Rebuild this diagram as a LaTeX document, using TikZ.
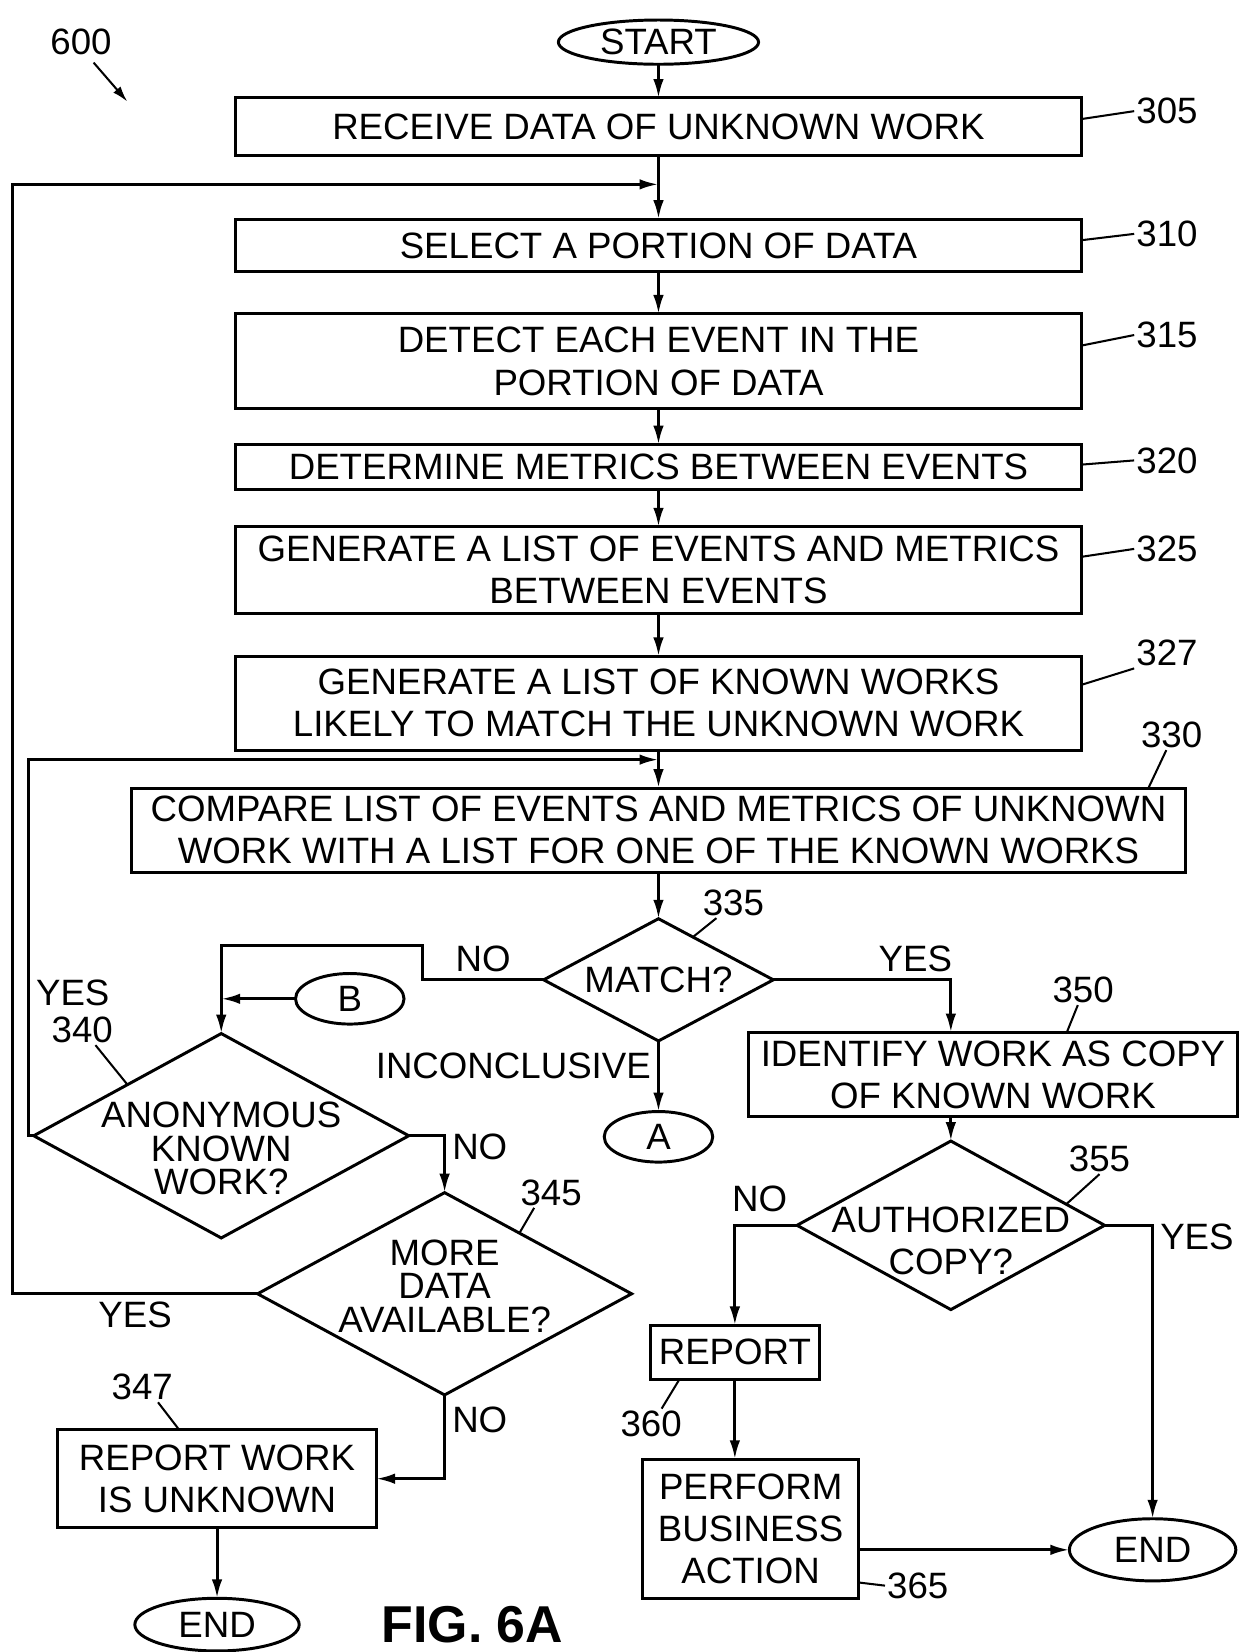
\documentclass[tikz,border=0pt]{standalone}
\usepackage{fontspec}
\setmainfont{Liberation Sans}
\usetikzlibrary{shapes.geometric,arrows.meta,positioning,calc}
\newcommand{\flowfont}{\fontsize{19.8}{22.8}\selectfont}
\newcommand{\diafont}{\fontsize{19.8}{18.2}\selectfont}
\newcommand{\figfont}{\fontsize{28}{32}\selectfont\bfseries}

\begin{document}
\begin{tikzpicture}[
    font=\flowfont,
    box/.style={rectangle, draw, line width=1.6pt, inner sep=0pt, outer sep=0pt, minimum width=16.06cm, align=center},
    decision/.style={diamond, draw, line width=1.6pt, inner sep=0pt, outer sep=0pt},
    term/.style={ellipse, draw, line width=1.6pt, inner sep=0pt, outer sep=0pt, minimum width=3.12cm, minimum height=1.0cm},
    conn/.style={ellipse, draw, line width=1.6pt, inner sep=0pt, outer sep=0pt, minimum width=2.06cm, minimum height=0.96cm},
    dtext/.style={align=center, inner sep=0pt, font=\diafont},
    num/.style={inner sep=1pt},
    arrow/.style={-{Latex[length=0.36cm, width=0.2cm]}, line width=1.6pt},
    lead/.style={line width=1.1pt},
    figlabel/.style={inner sep=0pt, font=\figfont}
]
    \useasboundingbox (-12.5,0.8) rectangle (11.1,-30.56);

    % Main column
    \node[term, minimum width=3.8cm, minimum height=0.84cm] (start) {START};
    \node[box, minimum height=1.1cm, below=0.64cm of start] (b305) {RECEIVE DATA OF UNKNOWN WORK};
    \node[box, minimum height=1.0cm, below=1.2cm of b305] (b310) {SELECT A PORTION OF DATA};
    \node[box, minimum height=1.8cm, below=0.8cm of b310] (b315) {DETECT EACH EVENT IN THE\\PORTION OF DATA};
    \node[box, minimum height=0.86cm, below=0.68cm of b315] (b320) {DETERMINE METRICS BETWEEN EVENTS};
    \node[box, minimum height=1.64cm, below=0.7cm of b320] (b325) {GENERATE A LIST OF EVENTS AND METRICS\\BETWEEN EVENTS};
    \node[box, minimum height=1.78cm, below=0.82cm of b325] (b327) {GENERATE A LIST OF KNOWN WORKS\\LIKELY TO MATCH THE UNKNOWN WORK};
    \node[box, minimum width=20cm, minimum height=1.6cm, below=0.72cm of b327] (b330) {COMPARE LIST OF EVENTS AND METRICS OF UNKNOWN\\WORK WITH A LIST FOR ONE OF THE KNOWN WORKS};
    \node[decision, minimum width=4.36cm, minimum height=2.32cm, below=0.88cm of b330,
        label={[dtext]center:MATCH?}] (match) {};
    \node[conn, below=1.34cm of match] (circA) {A};

    % Junctions of the loops
    \coordinate (j1) at ($(b305.south)!0.45!(b310.north)$);
    \coordinate (j2) at ($(b327.south)!0.25!(b330.north)$);

    % Left branch
    \node[decision, minimum width=7.12cm, minimum height=3.88cm, below=1.02cm of match.west, xshift=-6.12cm,
        label={[dtext, yshift=-0.24cm]center:ANONYMOUS\\KNOWN\\WORK?}] (anon) {};
    \node[conn, right=1.41cm of anon.north, yshift=0.66cm] (nB) {B};
    \node[decision, minimum width=7.1cm, minimum height=3.84cm, below=1.08cm of anon.east, xshift=0.68cm,
        label={[dtext, yshift=0.15cm]center:MORE\\DATA\\AVAILABLE?}] (more) {};
    \node[box, minimum width=6.04cm, minimum height=1.86cm, below left=0.66cm and 1.3cm of more.south] (b347) {REPORT WORK\\IS UNKNOWN};
    \node[term, below=1.34cm of b347] (end1) {END};
    \node[figlabel, right=1.56cm of end1] (fig) {FIG. 6A};

    % Right branch
    \node[box, minimum width=9.3cm, minimum height=1.6cm, below=1.0cm of match.east, xshift=4.17cm] (b350) {IDENTIFY WORK AS COPY\\OF KNOWN WORK};
    \node[decision, minimum width=5.84cm, minimum height=3.2cm, below=0.46cm of b350.south, xshift=-0.8cm,
        label={[dtext, font=\flowfont, yshift=-0.3cm]center:AUTHORIZED\\COPY?}] (auth) {};
    \node[box, minimum width=3.22cm, minimum height=1.02cm, below=1.9cm of auth.west, xshift=-1.18cm] (b360) {REPORT};
    \node[box, minimum width=4.1cm, minimum height=2.64cm, below=1.52cm of b360.south, xshift=0.3cm] (b365) {PERFORM\\BUSINESS\\ACTION};
    \node[term, minimum width=3.16cm, minimum height=1.18cm, right=4cm of b365.east, yshift=-0.4cm] (end2) {END};

    % Reference numerals
    \node[num, left=8.44cm of start] (l600) {600};
    \coordinate (p600) at ([xshift=0.88cm, yshift=-0.84cm]l600.south);
    \node[num, right=1.0cm of b305.east, yshift=0.3cm] (l305) {305};
    \node[num, right=1.0cm of b310.east, yshift=0.22cm] (l310) {310};
    \node[num, right=1.0cm of b315.east, yshift=0.5cm] (l315) {315};
    \node[num, right=1.0cm of b320.east, yshift=0.13cm] (l320) {320};
    \node[num, right=1.0cm of b325.east, yshift=0.4cm] (l325) {325};
    \node[num, right=1.0cm of b327.east, yshift=0.95cm] (l327) {327};
    \node[num, above=0.72cm of b330.north east, xshift=-0.26cm] (l330) {330};
    \node[num, right=0.8cm of match.north, yshift=0.3cm] (l335) {335};
    \node[num, above right=1.72cm and 0.3cm of anon.west] (l340) {340};
    \node[num, right=1.4cm of more.north] (l345) {345};
    \node[num, above=0.52cm of b347.north, xshift=-1.42cm] (l347) {347};
    \node[num, above=0.52cm of b350.north, xshift=1.71cm] (l350) {350};
    \node[num, right=2.2cm of auth.north, yshift=-0.34cm] (l355) {355};
    \node[num, below=0.56cm of b360.south west, xshift=0.02cm] (l360) {360};
    \node[num, right=0.5cm of b365.south east, yshift=0.24cm] (l365) {365};

    % Leaders
    \draw[-{Latex[length=0.3cm, width=0.18cm]}, lead] ([xshift=0.24cm, yshift=-0.1cm]l600.south) -- (p600);
    \draw[lead] ([yshift=0.15cm]b305.east) -- (l305.west);
    \draw[lead] ([yshift=0.1cm]b310.east) -- (l310.west);
    \draw[lead] ([yshift=0.3cm]b315.east) -- (l315.west);
    \draw[lead] ([yshift=0.05cm]b320.east) -- (l320.west);
    \draw[lead] ([yshift=0.25cm]b325.east) -- (l325.west);
    \draw[lead] ([yshift=0.35cm]b327.east) -- (l327.south west);
    \draw[lead] ([xshift=-0.7cm]b330.north east) -- ([xshift=-0.1cm]l330.south);
    \draw[lead] ([xshift=0.3cm]l335.south west) -- ($(match.north)!0.3!(match.east)$);
    \draw[lead] ([xshift=0.25cm]l340.south) -- ($(anon.north)!0.5!(anon.west)$);
    \draw[lead] ([xshift=0.3cm]l345.south west) -- ($(more.north)!0.4!(more.east)$);
    \draw[lead] ([xshift=0.3cm]l347.south) -- ([xshift=-0.72cm]b347.north);
    \draw[lead] ([xshift=-0.1cm]l350.south) -- ([xshift=1.4cm]b350.north);
    \draw[lead] (l355.south) -- ($(auth.north)!0.75!(auth.east)$);
    \draw[lead] ([xshift=0.56cm]b360.south west) -- ([xshift=0.2cm]l360.north);
    \draw[lead] ([yshift=0.3cm]b365.south east) -- (l365.west);

    % Edges
    \draw[arrow] (start) -- (b305);
    \draw[arrow] (b305) -- (b310);
    \draw[arrow] (b310) -- (b315);
    \draw[arrow] (b315) -- (b320);
    \draw[arrow] (b320) -- (b325);
    \draw[arrow] (b325) -- (b327);
    \draw[arrow] (b327) -- (b330);
    \draw[arrow] (b330) -- (match);
    \draw[arrow] (match) -- node[left, pos=0.35] {INCONCLUSIVE} (circA);
    \draw[arrow] (match.west) -- node[above] {NO} ++(-2.3cm,0) -- ++(0,0.66cm) -| (anon.north);
    \draw[arrow] (nB) -- (nB -| anon.north);
    \draw[arrow] (match.east) -| node[above, pos=0.4] {YES} ([xshift=-0.8cm]b350.north);
    \draw[arrow] (anon.west) -- ++(-0.1cm,0) |- node[right, pos=0.19] {YES} (j2);
    \draw[arrow] (anon.east) -| node[right, pos=0.6] {NO} (more.north);
    \draw[arrow] (more.west) -- node[below] {YES} ++(-4.65cm,0) |- (j1);
    \draw[arrow] (more.south) |- node[right, pos=0.15] {NO} (b347.east);
    \draw[arrow] (b347) -- (end1);
    \draw[arrow] ([xshift=-0.8cm]b350.south) -- (auth.north);
    \draw[arrow] (auth.west) -| node[above=3pt, pos=0.3] {NO} (b360.north);
    \draw[arrow] (auth.east) -| node[right, pos=0.52] {YES} (end2.north);
    \draw[arrow] (b360) -- (b360 |- b365.north);
    \draw[arrow] (b365.east |- end2.west) -- (end2.west);
\end{tikzpicture}
\end{document}
